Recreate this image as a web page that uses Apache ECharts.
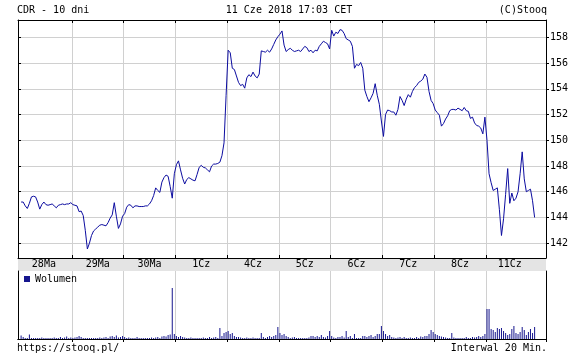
<!DOCTYPE html>
<html><head><meta charset="utf-8">
<script src="https://cdn.jsdelivr.net/npm/echarts@6/dist/echarts.min.js"></script>
<style>html,body{margin:0;padding:0;background:#fff}#c{width:585px;height:359px}</style>
</head><body><div id="c"></div>
<script>
// ---- data ----
const days = ['28Ma','29Ma','30Ma','1Cz','4Cz','5Cz','6Cz','7Cz','8Cz','11Cz'];
const times = ['09:00','09:20','09:40','10:00','10:20','10:40','11:00','11:20','11:40','12:00','12:20','12:40','13:00',
               '13:20','13:40','14:00','14:20','14:40','15:00','15:20','15:40','16:00','16:20','16:40','17:00'];
const yTicks = [142,144,146,148,150,152,154,156,158];

const p28Ma = [145.2,145.2,144.9,144.7,145.1,145.6,145.65,145.6,145.2,144.65,145.0,145.2,145.0,144.95,145.0,145.05,144.9,144.75,144.95,145.0,145.05,145.0,145.05,145.05,145.15];
const p29Ma = [145.0,144.95,144.9,144.45,144.5,144.15,143.0,141.55,142.0,142.6,142.95,143.1,143.25,143.4,143.45,143.4,143.35,143.6,143.95,144.2,145.15,144.1,143.15,143.5,144.1];
const p30Ma = [144.3,144.8,145.0,144.95,144.75,144.9,144.9,144.85,144.85,144.85,144.9,144.9,145.05,145.3,145.7,146.3,146.1,145.95,146.75,147.1,147.3,147.2,146.4,145.5,147.4];
const p1Cz  = [148.1,148.4,147.7,147.05,146.6,146.95,147.1,147.0,146.9,146.85,147.35,147.9,148.05,147.9,147.85,147.7,147.55,148.0,148.15,148.15,148.2,148.3,148.8,149.8,153.5];
const p4Cz  = [157.0,156.8,155.6,155.5,155.0,154.5,154.25,154.35,154.05,154.85,155.1,154.95,155.3,155.0,154.85,155.15,156.95,156.9,156.85,157.0,156.85,157.1,157.45,157.8,158.05];
const p5Cz  = [158.25,158.5,157.4,156.9,157.05,157.15,157.0,156.9,156.95,157.0,156.9,157.1,157.3,157.2,156.9,157.0,156.8,157.0,156.95,157.3,157.5,157.7,157.6,157.5,157.1];
const p6Cz  = [158.55,158.1,158.4,158.3,158.6,158.55,158.3,157.9,157.8,157.7,157.3,155.6,155.9,155.8,156.05,155.6,153.9,153.4,153.0,153.3,153.65,154.4,153.5,152.8,151.5];
const p7Cz  = [150.3,152.0,152.35,152.3,152.2,152.2,151.95,152.4,153.4,153.1,152.7,153.2,153.55,153.35,153.8,154.1,154.25,154.5,154.6,154.75,155.15,154.9,153.8,153.1,152.85];
const p8Cz  = [152.35,152.15,151.95,151.1,151.3,151.65,151.9,152.3,152.4,152.4,152.35,152.5,152.4,152.3,152.55,152.3,152.25,151.7,151.8,151.35,151.15,151.1,150.95,150.5,151.8];
const p11Cz = [150.0,147.4,146.7,146.1,146.2,146.3,144.6,142.6,143.9,145.8,147.8,145.1,145.9,145.3,145.5,146.0,147.4,149.1,147.0,146.0,146.1,146.2,145.3,144.0];

// volume, thousands of shares
const v28Ma = [10.5,6,3,3,13.5,3,3,3,3,3,4.5,3,3,3,3,3,4.5,3,3,6,3,4.5,7.5,3,4.5];
const v29Ma = [3,4.5,6,9,6,3,3,3,3,3,3,3,3,4.5,3,4.5,6,3,7.5,9,6,10.5,4.5,6,9];
const v30Ma = [6,3,4.5,3,3,3,6,3,3,3,3,3,3,4.5,3,4.5,6,3,7.5,9,7.5,12,13.5,153,15];
const v1Cz  = [9,6,9,6,4.5,3,3,4.5,3,3,3,3,3,4.5,3,3,6,3,4.5,6,3,33,9,18,21];
const v4Cz  = [24,15,18,9,6,6,4.5,3,3,4.5,3,3,4.5,3,3,3,18,6,3,6,9,6,9,12,36];
const v5Cz  = [18,12,15,9,6,3,4.5,6,3,3,3,3,3,3,4.5,9,9,6,9,6,12,6,4.5,9,24];
const v6Cz  = [9,4.5,3,6,6,9,4.5,24,6,9,3,15,3,3,3,9,9,6,9,12,6,9,15,15,39];
const v7Cz  = [24,15,9,12,6,4.5,3,4.5,6,3,6,3,3,4.5,3,3,6,3,7.5,6,9,9,15,27,21];
const v8Cz  = [15,12,9,7.5,6,4.5,3,3,18,4.5,3,3,3,3,3,6,3,3,6,4.5,6,9,6,9,15];
const v11Cz = [90,90,30,27,21,33,30,33,24,18,12,15,30,39,18,15,21,36,27,12,21,30,18,36];

const prices = [p28Ma,p29Ma,p30Ma,p1Cz,p4Cz,p5Cz,p6Cz,p7Cz,p8Cz,p11Cz];
const volumes = [v28Ma,v29Ma,v30Ma,v1Cz,v4Cz,v5Cz,v6Cz,v7Cz,v8Cz,v11Cz];

// ---- build category table ----
const cats = [], priceData = [], volData = [], boundaries = new Set(), labelIdx = new Set();
cats.push('28Ma 08:40'); priceData.push('-'); volData.push('-');
days.forEach((d, i) => {
  const start = i === 0 ? 0 : cats.length;
  if (i > 0) boundaries.add(start);
  labelIdx.add(start + (i === days.length - 1 ? 11 : 12));
  times.forEach((t, k) => {
    cats.push(d + ' ' + t);
    priceData.push(k < prices[i].length ? prices[i][k] : '-');
    volData.push(k < volumes[i].length ? volumes[i][k] : '-');
  });
});
['17:20','17:40','18:00','18:20'].forEach(t => { cats.push('11Cz ' + t); priceData.push('-'); volData.push('-'); });

const FONT = 'DejaVu Sans Mono';
const LINE = '#0c0ca0';
const BAR = '#16168e';
const GRID = '#d0d0d0';
const isB = (idx) => boundaries.has(idx);

const chart = echarts.init(document.getElementById('c'), null, {renderer: 'canvas'});
chart.setOption({
  animation: false,
  backgroundColor: '#fff',
  textStyle: {fontFamily: FONT},
  grid: [
    {left: 18, top: 20, width: 528, height: 238},
    {left: 18, top: 271, width: 528, height: 68}
  ],
  legend: {
    data: ['Wolumen'], left: 24, top: 274, itemWidth: 6, itemHeight: 6, icon: 'rect',
    selectedMode: false, padding: 0,
    textStyle: {fontFamily: FONT, fontSize: 10, color: '#000'}
  },
  xAxis: [
    {type: 'category', gridIndex: 0, position: 'bottom', data: cats,
     axisLine: {lineStyle: {color: '#000', width: 1}},
     axisTick: {show: true, inside: true, length: 3, interval: isB, lineStyle: {color: '#000'}},
     axisLabel: {show: true, interval: (i) => labelIdx.has(i), formatter: (v) => v.split(' ')[0],
                 margin: 6, verticalAlign: 'middle', color: '#000', fontFamily: FONT, fontSize: 10},
     splitLine: {show: true, interval: isB, lineStyle: {color: GRID, width: 1}}},
    {type: 'category', gridIndex: 0, position: 'top', data: cats,
     axisLine: {lineStyle: {color: '#000', width: 1}},
     axisTick: {show: true, inside: true, length: 3, interval: isB, lineStyle: {color: '#000'}},
     axisLabel: {show: false}, splitLine: {show: false}},
    {type: 'category', gridIndex: 1, position: 'bottom', data: cats,
     axisLine: {lineStyle: {color: '#000', width: 1}},
     axisTick: {show: false}, axisLabel: {show: false},
     splitLine: {show: true, interval: isB, lineStyle: {color: GRID, width: 1}}},
    {type: 'category', gridIndex: 1, position: 'top', data: cats,
     axisLine: {lineStyle: {color: '#000', width: 1}},
     axisTick: {show: true, inside: true, length: 3, interval: isB, lineStyle: {color: '#000'}},
     axisLabel: {show: false}, splitLine: {show: false}}
  ],
  yAxis: [
    {type: 'value', gridIndex: 0, position: 'right', min: 140.85, max: 159.35, scale: true,
     axisLine: {show: true, lineStyle: {color: '#000', width: 1}},
     axisTick: {show: true, inside: false, length: 3, customValues: yTicks, lineStyle: {color: '#000'}},
     axisLabel: {show: true, customValues: yTicks, margin: 4, color: '#000', fontFamily: FONT, fontSize: 10},
     splitLine: {show: true, customValues: yTicks, lineStyle: {color: GRID, width: 1}}},
    {type: 'value', gridIndex: 0, position: 'left', min: 140.85, max: 159.35, scale: true,
     axisLine: {show: true, lineStyle: {color: '#000', width: 1}},
     axisTick: {show: true, inside: true, length: 3, customValues: yTicks, lineStyle: {color: '#000'}},
     axisLabel: {show: false}, splitLine: {show: false}},
    {type: 'value', gridIndex: 1, position: 'left', min: 0, max: 204,
     axisLine: {show: true, lineStyle: {color: '#000', width: 1}},
     axisTick: {show: false}, axisLabel: {show: false}, splitLine: {show: false}},
    {type: 'value', gridIndex: 1, position: 'right', min: 0, max: 204,
     axisLine: {show: true, lineStyle: {color: '#000', width: 1}},
     axisTick: {show: false}, axisLabel: {show: false}, splitLine: {show: false}}
  ],
  series: [
    {name: 'CDR', type: 'line', xAxisIndex: 0, yAxisIndex: 0, data: priceData,
     showSymbol: false, symbol: 'none', connectNulls: false,
     lineStyle: {color: LINE, width: 1}, itemStyle: {color: LINE}},
    {name: 'Wolumen', type: 'bar', xAxisIndex: 2, yAxisIndex: 2, data: volData,
     barWidth: 1, itemStyle: {color: BAR}}
  ],
  graphic: [
    {type: 'rect', z: -1, shape: {x: 18, y: 259, width: 528, height: 12}, style: {fill: '#e4e4e4'}, silent: true},
    {type: 'text', style: {text: 'CDR - 10 dni', x: 17, y: 10, align: 'left', verticalAlign: 'middle', fill: '#000', font: '10px "DejaVu Sans Mono"'}},
    {type: 'text', style: {text: '11 Cze 2018 17:03 CET', x: 289, y: 10, align: 'center', verticalAlign: 'middle', fill: '#000', font: '10px "DejaVu Sans Mono"'}},
    {type: 'text', style: {text: '(C)Stooq', x: 547, y: 10, align: 'right', verticalAlign: 'middle', fill: '#000', font: '10px "DejaVu Sans Mono"'}},
    {type: 'text', style: {text: 'https://stooq.pl/', x: 17, y: 348, align: 'left', verticalAlign: 'middle', fill: '#000', font: '10px "DejaVu Sans Mono"'}},
    {type: 'text', style: {text: 'Interwal 20 Min.', x: 547, y: 348, align: 'right', verticalAlign: 'middle', fill: '#000', font: '10px "DejaVu Sans Mono"'}}
  ]
});
</script>
</body></html>
